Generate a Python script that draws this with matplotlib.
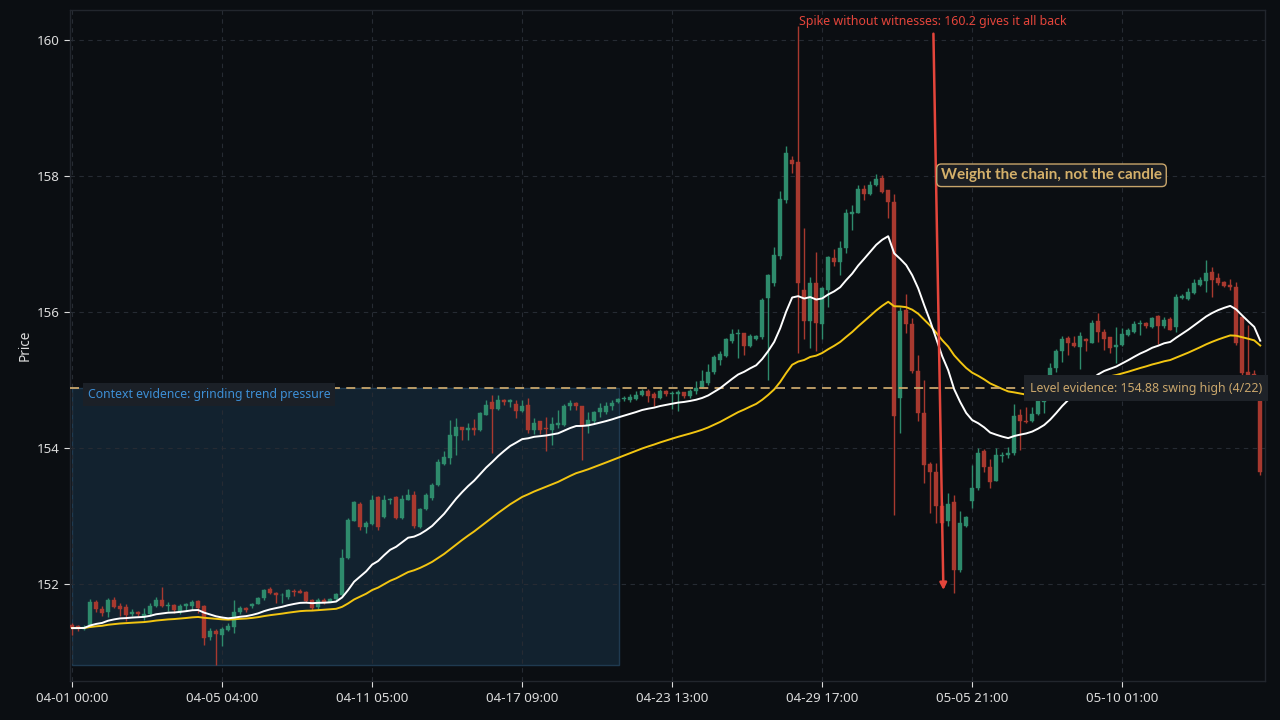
import numpy as np
import pandas as pd
import matplotlib
matplotlib.use("Agg")
import matplotlib.pyplot as plt
from matplotlib.patches import Rectangle

plt.rcParams['font.family'] = ['Noto Sans', 'DejaVu Sans']

# ---------------- data (OHLC) ----------------
opens = [151.40,151.38,151.34,151.40,151.73,151.63,151.58,151.77,151.68,151.66,
         151.55,151.58,151.52,151.55,151.68,151.77,151.67,151.69,151.59,151.67,
         151.68,151.75,151.67,151.22,151.30,151.25,151.32,151.36,151.58,151.64,
         151.68,151.71,151.79,151.93,151.87,151.83,151.80,151.90,151.90,151.88,
         151.76,151.66,151.77,151.74,151.78,151.84,152.38,152.93,153.18,152.83,
         152.88,153.28,152.99,153.24,153.28,152.97,153.24,153.31,152.84,153.10,
         153.26,153.46,153.77,153.85,154.18,154.31,154.27,154.30,154.26,154.49,
         154.67,154.57,154.71,154.68,154.65,154.55,154.63,154.26,154.39,154.30,
         154.27,154.33,154.34,154.61,154.66,154.62,154.33,154.40,154.53,154.53,
         154.61,154.67,154.72,154.70,154.72,154.78,154.84,154.80,154.73,154.84,
         154.79,154.80,154.82,154.77,154.83,154.89,154.95,155.11,155.30,155.35,
         155.57,155.67,155.69,155.50,155.60,155.63,156.20,156.42,156.82,157.65,
         158.24,158.21,156.32,155.87,156.42,155.82,156.32,156.80,156.74,156.94,
         157.44,157.46,157.81,157.74,157.86,157.97,157.79,157.62,154.74,156.03,
         155.82,155.13,154.51,153.77,153.64,153.15,152.92,153.20,152.21,152.85,
         153.22,153.41,153.95,153.72,153.52,153.88,153.89,153.92,154.49,154.40,
         154.40,154.50,154.68,155.06,155.17,155.42,155.61,155.54,155.49,155.60,
         155.55,155.86,155.71,155.63,155.48,155.52,155.66,155.70,155.82,155.84,
         155.78,155.94,155.79,155.89,155.78,156.20,156.19,156.28,156.40,156.45,
         156.59,156.50,156.44,156.40,156.37,155.93,155.12,155.08,154.71]
highs = [151.42,151.40,151.40,151.78,151.76,151.68,151.79,151.80,151.72,151.71,
         151.63,151.60,151.64,151.72,151.80,151.96,151.73,151.71,151.71,151.72,
         151.77,151.77,151.69,151.35,151.33,151.37,151.42,151.77,151.67,151.66,
         151.72,151.81,151.93,151.96,151.88,151.86,151.93,151.92,151.93,151.89,
         151.78,151.79,151.79,151.79,151.87,152.51,152.97,153.22,153.20,152.92,
         153.31,153.29,153.31,153.27,153.29,153.31,153.39,153.36,153.12,153.33,
         153.49,153.84,153.96,154.41,154.44,154.31,154.36,154.42,154.53,154.70,
         154.78,154.78,154.72,154.72,154.70,154.70,154.74,154.44,154.39,154.45,
         154.46,154.56,154.64,154.70,154.68,154.62,154.53,154.55,154.66,154.68,
         154.70,154.74,154.77,154.79,154.83,154.86,154.86,154.82,154.86,154.85,
         154.84,154.85,154.82,154.86,154.98,155.15,155.23,155.37,155.42,155.62,
         155.75,155.75,155.69,155.67,155.66,156.20,156.56,156.95,157.78,158.44,
         158.30,160.20,157.23,156.52,156.88,156.37,156.83,156.92,157.05,157.51,
         157.58,157.86,157.86,157.92,158.03,158.02,157.79,157.74,156.08,156.27,
         155.91,155.37,155.00,153.79,153.78,153.20,153.33,153.31,153.07,153.00,
         153.75,154.00,153.98,153.83,154.00,153.94,154.02,154.65,154.57,154.60,
         154.60,154.72,154.88,155.25,155.45,155.65,155.64,155.64,155.71,155.62,
         155.88,155.98,155.75,155.63,155.78,155.76,155.77,155.86,155.88,155.85,
         155.93,155.95,155.92,155.93,156.26,156.27,156.35,156.49,156.51,156.76,
         156.66,156.57,156.45,156.49,156.44,155.95,155.81,155.15,154.75]
lows = [151.25,151.30,151.32,151.37,151.58,151.53,151.51,151.64,151.53,151.45,
        151.53,151.53,151.47,151.53,151.66,151.66,151.60,151.57,151.56,151.60,
        151.62,151.57,151.10,151.18,150.81,151.08,151.30,151.28,151.56,151.59,
        151.65,151.70,151.77,151.85,151.72,151.72,151.78,151.82,151.86,151.73,
        151.61,151.63,151.71,151.73,151.76,151.82,152.36,152.92,152.80,152.75,
        152.87,152.80,152.97,153.17,152.96,152.96,153.23,152.82,152.82,153.08,
        153.24,153.44,153.75,153.76,153.90,154.11,154.12,154.19,154.25,154.48,
        153.92,154.56,154.63,154.60,154.44,154.53,154.22,154.20,154.20,153.95,
        154.05,154.29,154.32,154.56,154.56,153.82,154.22,154.37,154.46,154.50,
        154.56,154.66,154.69,154.68,154.71,154.77,154.68,154.62,154.72,154.76,
        154.57,154.55,154.74,154.73,154.80,154.88,154.93,155.09,155.22,155.34,
        155.55,155.32,155.37,155.48,155.59,155.60,155.00,156.38,156.78,157.60,
        158.05,155.40,155.60,155.47,155.43,155.60,156.08,156.67,156.55,156.87,
        157.20,157.45,157.64,157.72,157.85,157.75,157.38,153.02,154.22,155.69,
        155.10,154.39,153.48,153.05,152.89,152.88,152.85,151.86,152.18,152.83,
        153.11,153.38,153.65,153.41,153.51,153.80,153.85,153.90,153.97,154.36,
        154.38,154.49,154.52,155.04,155.12,155.27,155.37,155.49,155.16,155.43,
        155.54,155.56,155.44,155.40,155.25,155.50,155.65,155.69,155.66,155.77,
        155.77,155.53,155.77,155.73,155.70,156.19,156.18,156.27,156.38,156.30,
        156.22,156.40,156.37,156.33,155.52,155.05,155.00,154.95,153.60]
closes = [151.35,151.35,151.37,151.73,151.63,151.57,151.77,151.66,151.63,151.54,
          151.58,151.56,151.56,151.68,151.77,151.67,151.69,151.61,151.67,151.70,
          151.74,151.65,151.21,151.30,151.26,151.34,151.38,151.59,151.65,151.61,
          151.71,151.79,151.91,151.87,151.83,151.84,151.91,151.88,151.87,151.75,
          151.65,151.77,151.74,151.78,151.85,152.38,152.94,153.20,152.83,152.90,
          153.24,152.83,153.24,153.25,152.97,153.25,153.31,152.85,153.10,153.31,
          153.46,153.80,153.87,154.19,154.31,154.27,154.29,154.27,154.52,154.63,
          154.57,154.71,154.68,154.71,154.55,154.62,154.26,154.37,154.26,154.28,
          154.35,154.37,154.62,154.66,154.61,154.33,154.41,154.53,154.58,154.61,
          154.66,154.72,154.73,154.75,154.78,154.84,154.76,154.74,154.84,154.80,
          154.81,154.82,154.77,154.83,154.88,154.98,155.12,155.34,155.38,155.60,
          155.67,155.69,155.50,155.65,155.64,156.18,156.54,156.84,157.66,158.34,
          158.18,156.42,155.87,156.42,155.84,156.35,156.81,156.74,156.94,157.46,
          157.47,157.81,157.73,157.86,157.96,157.77,157.61,154.47,156.01,155.82,
          155.13,154.51,153.75,153.64,153.15,152.90,153.18,152.20,152.90,152.98,
          153.41,153.93,153.72,153.50,153.90,153.90,153.93,154.47,154.39,154.38,
          154.50,154.70,154.84,155.17,155.43,155.60,155.54,155.50,155.64,155.57,
          155.84,155.71,155.60,155.47,155.51,155.68,155.74,155.82,155.84,155.80,
          155.91,155.79,155.88,155.74,156.22,156.23,156.30,156.42,156.47,156.57,
          156.47,156.43,156.38,156.36,155.54,155.10,155.05,155.00,153.65]

xtick_pos = [0, 25, 50, 75, 100, 125, 150, 175]
xtick_labels = ["04-01 00:00", "04-05 04:00", "04-11 05:00", "04-17 09:00",
                "04-23 13:00", "04-29 17:00", "05-05 21:00", "05-10 01:00"]
level_price = 154.88
spike_price = 160.2

# ---------------- styling ----------------
BG = '#0b0e12'
GREEN = '#2e8b6c'
RED = '#a8392f'
GRID = '#262b33'
TAN = '#c8a56b'
TICKC = '#dcdcdc'

df = pd.DataFrame({'open': opens, 'high': highs, 'low': lows, 'close': closes})
n = len(df)
x = np.arange(n)
ema_fast = df['close'].ewm(span=20, adjust=False).mean()
ema_slow = df['close'].ewm(span=50, adjust=False).mean()

fig = plt.figure(figsize=(12.8, 7.2), dpi=100, facecolor=BG)
ax = fig.add_axes([0.0547, 0.054, 0.9336, 0.932])
ax.set_facecolor(BG)

# context rectangle
ctx_end = 91.2
rect = Rectangle((0, min(lows)), ctx_end, level_price - min(lows),
                 facecolor='#12222f', edgecolor='#1f3a50', lw=1.0, zorder=0.5)
ax.add_patch(rect)

# candles
up = df['close'] >= df['open']
colors = np.where(up, GREEN, RED)
ax.vlines(x, df['low'], df['high'], colors=colors, lw=1.0, zorder=2)
body_bottom = np.minimum(df['open'], df['close'])
body_h = np.maximum((df['close'] - df['open']).abs(), 0.012)
ax.bar(x, body_h, bottom=body_bottom, width=0.62, color=colors, edgecolor=colors,
       lw=0.3, zorder=3)

# moving averages
ax.plot(x, ema_slow, color='#f2c511', lw=1.4, zorder=4)
ax.plot(x, ema_fast, color='#ffffff', lw=1.4, zorder=5)

# level line
ax.axhline(level_price, color=TAN, lw=1.3, ls=(0, (5, 3.5)), zorder=4)

ax.set_xlim(-0.35, 198.8)
ax.set_ylim(150.57, 160.44)

ax.set_xticks(xtick_pos)
ax.set_xticklabels(xtick_labels)
ax.set_yticks([152, 154, 156, 158, 160])
ax.tick_params(colors=TICKC, labelsize=9.6, length=4, width=0.8)
ax.grid(True, color=GRID, ls=(0, (4, 4)), lw=0.8, zorder=0)
ax.set_axisbelow(True)
for s in ax.spines.values():
    s.set_color('#22262d')
    s.set_linewidth(1.0)
ax.set_ylabel('Price', color=TICKC, fontsize=9.8, labelpad=3)

# labels
ax.text(2.6, level_price - 0.09, 'Context evidence: grinding trend pressure',
        color='#3d8fd6', fontsize=8.8, ha='left', va='center', zorder=6,
        bbox=dict(boxstyle='square,pad=0.4', fc='#1b2027', ec='none'))
ax.text(159.6, level_price, 'Level evidence: 154.88 swing high (4/22)',
        color=TAN, fontsize=8.9, ha='left', va='center', zorder=6,
        bbox=dict(boxstyle='square,pad=0.5', fc='#1e2228', ec='none'))

ax.annotate('Spike without witnesses: %.1f gives it all back' % spike_price,
            xy=(145.2, 151.91), xytext=(121.2, 160.27),
            color='#e4453b', fontsize=8.9, ha='left', va='center', zorder=7,
            arrowprops=dict(arrowstyle='-|>', color='#e4453b', lw=1.8,
                            mutation_scale=10, shrinkA=2, shrinkB=0))

ax.text(144.8, 158.01, 'Weight the chain, not the candle', color='#d4b06a',
        fontsize=11.0, fontweight='bold', family=['Lato', 'Roboto', 'DejaVu Sans'],
        ha='left', va='center', zorder=7,
        bbox=dict(boxstyle='round,pad=0.28,rounding_size=0.3', fc='#1b1e23',
                  ec=TAN, lw=1.0))

fig.savefig('out.png', dpi=100, facecolor=BG)
